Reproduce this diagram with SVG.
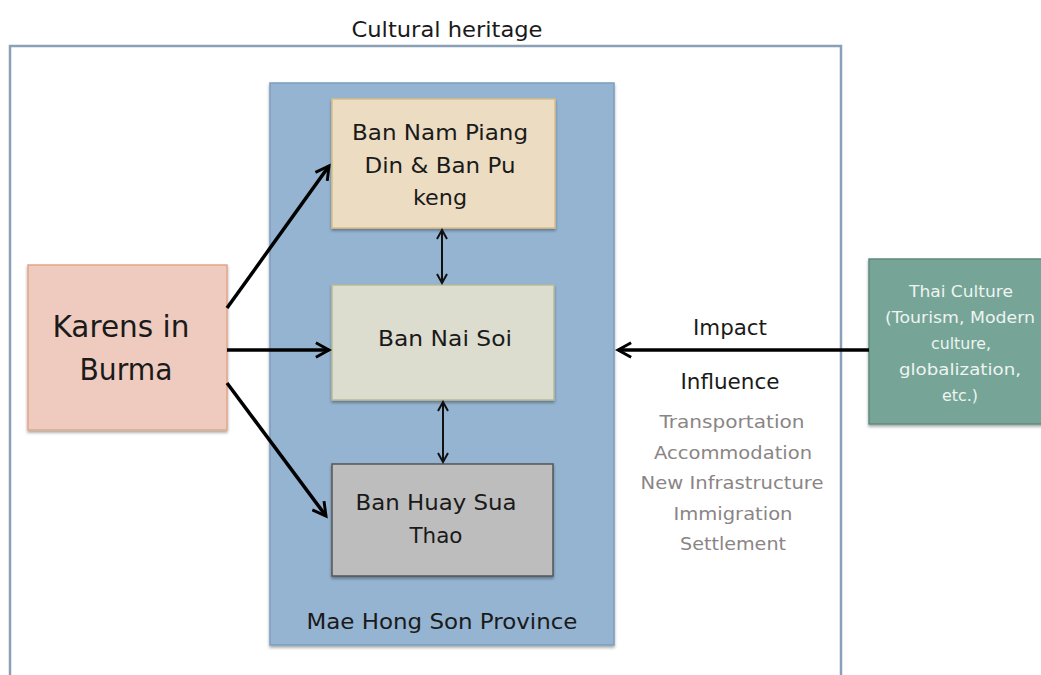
<svg xmlns="http://www.w3.org/2000/svg" width="1041" height="675" viewBox="0 0 1041 675">
<style>
text{font-family:"DejaVu Sans","Liberation Sans",sans-serif;text-anchor:middle;fill:#1a1a1a}
.t20{font-size:21.5px}
.t16{font-size:16.5px;fill:#eef4f2}
.gray{font-size:18px;fill:#8a8585}
.conn{stroke:#000;stroke-width:3.5;fill:none}
.thin{stroke:#111;stroke-width:2;fill:none}
</style>
<defs>
<marker id="ah" viewBox="0 0 12 12" refX="10" refY="6" markerWidth="5" markerHeight="5" markerUnits="strokeWidth" orient="auto">
<path d="M1,1 L10,6 L1,11" fill="none" stroke="#000" stroke-width="2"/>
</marker>
<marker id="ahs" viewBox="0 0 12 12" refX="10" refY="6" markerWidth="6" markerHeight="6" markerUnits="strokeWidth" orient="auto-start-reverse">
<path d="M1,1 L10,6 L1,11" fill="none" stroke="#111" stroke-width="2"/>
</marker>
<filter id="sh" x="-10%" y="-10%" width="120%" height="130%">
<feDropShadow dx="0" dy="2" stdDeviation="1.5" flood-color="#000" flood-opacity="0.35"/>
</filter>
</defs>
<g id="frame">
<path d="M10,675 L10,46 L841,46 L841,675" fill="#fff" stroke="#8aa0b6" stroke-width="2.5"/>
<text class="t20" x="447" y="37" textLength="191" lengthAdjust="spacingAndGlyphs">Cultural heritage</text>
</g>
<g id="province">
<rect x="270" y="83" width="344" height="562" fill="#94b4d2" stroke="#7d9dbe" stroke-width="1.5" filter="url(#sh)"/>
<text class="t20" x="442" y="629" textLength="271" lengthAdjust="spacingAndGlyphs">Mae Hong Son Province</text>
</g>
<g id="nampiang">
<rect x="332" y="99" width="223" height="129" fill="#ecdcc2" stroke="#d8be86" stroke-width="1.5" filter="url(#sh)"/>
<text class="t20" x="440" y="140" textLength="176" lengthAdjust="spacingAndGlyphs">Ban Nam Piang</text>
<text class="t20" x="440" y="173" textLength="151" lengthAdjust="spacingAndGlyphs">Din &amp; Ban Pu</text>
<text class="t20" x="440" y="205" textLength="54" lengthAdjust="spacingAndGlyphs">keng</text>
</g>
<g id="naisoi">
<rect x="332" y="285" width="222" height="115" fill="#dcdccf" stroke="#b8bb98" stroke-width="1.5" filter="url(#sh)"/>
<text class="t20" x="445" y="346" textLength="134" lengthAdjust="spacingAndGlyphs">Ban Nai Soi</text>
</g>
<g id="huay">
<rect x="332" y="464" width="221" height="112" fill="#bdbdbd" stroke="#555" stroke-width="1.5" filter="url(#sh)"/>
<text class="t20" x="436" y="510" textLength="161" lengthAdjust="spacingAndGlyphs">Ban Huay Sua</text>
<text class="t20" x="436" y="543" textLength="53" lengthAdjust="spacingAndGlyphs">Thao</text>
</g>
<g id="karens">
<rect x="28" y="265" width="199" height="165" fill="#efcbbf" stroke="#e2a688" stroke-width="1.5" filter="url(#sh)"/>
<text x="121" y="337" font-size="30" textLength="137" lengthAdjust="spacingAndGlyphs">Karens in</text>
<text x="126" y="380" font-size="30" textLength="93" lengthAdjust="spacingAndGlyphs">Burma</text>
</g>
<g id="thai">
<rect x="869" y="259" width="180" height="165" fill="#76a597" stroke="#5e8c7e" stroke-width="1.5" filter="url(#sh)"/>
<text class="t16" x="961" y="297" textLength="104" lengthAdjust="spacingAndGlyphs">Thai Culture</text>
<text class="t16" x="960" y="323" textLength="150" lengthAdjust="spacingAndGlyphs">(Tourism, Modern</text>
<text class="t16" x="961" y="349" textLength="60" lengthAdjust="spacingAndGlyphs">culture,</text>
<text class="t16" x="960" y="375" textLength="122" lengthAdjust="spacingAndGlyphs">globalization,</text>
<text class="t16" x="960" y="401" textLength="36" lengthAdjust="spacingAndGlyphs">etc.)</text>
</g>
<g id="labels">
<text class="t20" x="730" y="335" textLength="74" lengthAdjust="spacingAndGlyphs">Impact</text>
<text class="t20" x="730" y="389" textLength="99" lengthAdjust="spacingAndGlyphs">Influence</text>
<text class="gray" x="732" y="428" textLength="145" lengthAdjust="spacingAndGlyphs">Transportation</text>
<text class="gray" x="733" y="459" textLength="158" lengthAdjust="spacingAndGlyphs">Accommodation</text>
<text class="gray" x="732" y="489" textLength="183" lengthAdjust="spacingAndGlyphs">New Infrastructure</text>
<text class="gray" x="733" y="520" textLength="119" lengthAdjust="spacingAndGlyphs">Immigration</text>
<text class="gray" x="733" y="550" textLength="106" lengthAdjust="spacingAndGlyphs">Settlement</text>
</g>
<g id="connectors">
<line class="conn" x1="227" y1="308" x2="329" y2="166" marker-end="url(#ah)"/>
<line class="conn" x1="227" y1="350" x2="329" y2="350" marker-end="url(#ah)"/>
<line class="conn" x1="227" y1="383" x2="326" y2="516" marker-end="url(#ah)"/>
<line class="conn" x1="869" y1="350" x2="618" y2="350" marker-end="url(#ah)"/>
<line class="thin" x1="442" y1="230" x2="442" y2="283" marker-start="url(#ahs)" marker-end="url(#ahs)"/>
<line class="thin" x1="443" y1="402" x2="443" y2="462" marker-start="url(#ahs)" marker-end="url(#ahs)"/>
</g>
</svg>
